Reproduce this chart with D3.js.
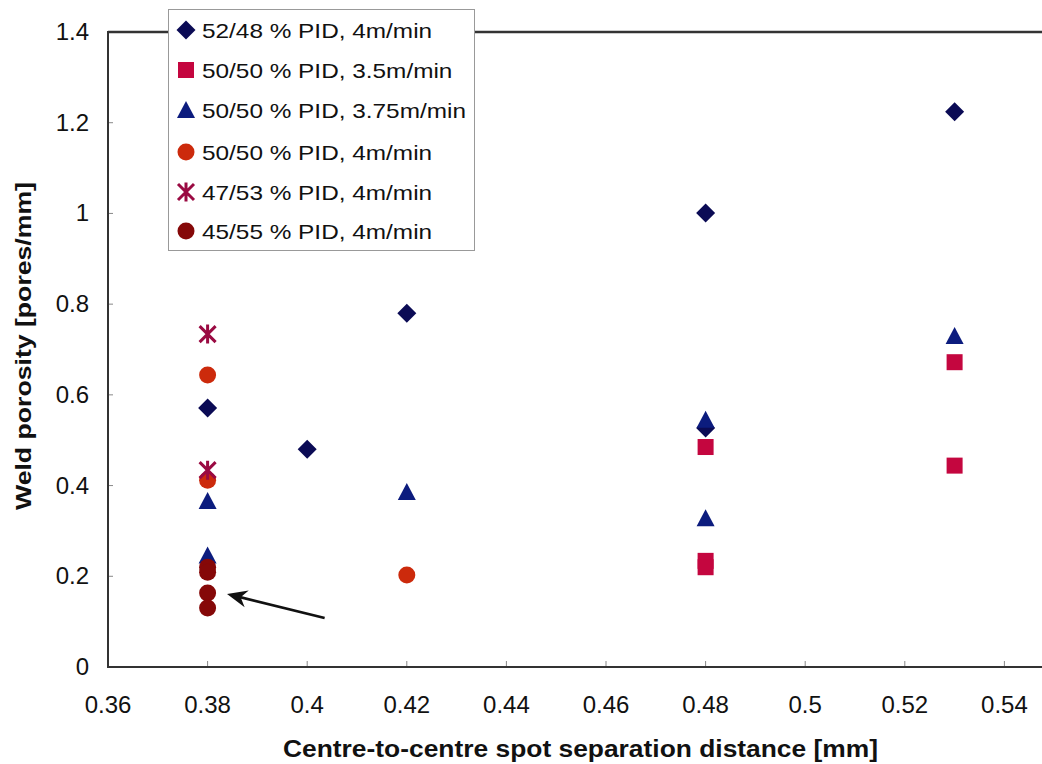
<!DOCTYPE html>
<html><head><meta charset="utf-8">
<script src="https://cdn.jsdelivr.net/npm/d3@7"></script>
<style>html,body{margin:0;padding:0;background:#fff;overflow:hidden}</style>
</head><body>
<svg id="chart" width="1042" height="764"></svg>
<script>
// ---- data ----
const seriesNames = ["52/48 % PID, 4m/min","50/50 % PID, 3.5m/min","50/50 % PID, 3.75m/min","50/50 % PID, 4m/min","47/53 % PID, 4m/min","45/55 % PID, 4m/min"];
const s1x = [0.38,0.40,0.42,0.48,0.48,0.53];
const s1y = [0.571,0.480,0.780,1.001,0.527,1.224];
const s2x = [0.48,0.48,0.48,0.53,0.53];
const s2y = [0.485,0.234,0.220,0.672,0.444];
const s3x = [0.38,0.38,0.42,0.48,0.48,0.53];
const s3y = [0.366,0.246,0.386,0.545,0.328,0.730];
const s4x = [0.38,0.38,0.42];
const s4y = [0.644,0.412,0.203];
const s5x = [0.38,0.38];
const s5y = [0.734,0.434];
const s6x = [0.38,0.38,0.38,0.38];
const s6y = [0.220,0.209,0.163,0.130];
const xTicks = [0.36,0.38,0.40,0.42,0.44,0.46,0.48,0.50,0.52,0.54];
const yTicks = [0,0.2,0.4,0.6,0.8,1,1.2,1.4];
const arrowFrom = {x:0.4035, y:0.108};
const arrowTo = {x:0.3839, y:0.161};

const colors = ["#0b0b55","#c4063f","#0c1c7e","#cc2a0c","#9a0a42","#850808"];
const shapes = ["diamond","square","triangle","circle","asterisk","circle"];

const svg = d3.select("#chart");
const x = d3.scaleLinear().domain([0.36,0.55]).range([108,108+9.5*99.6]);
const y = d3.scaleLinear().domain([0,1.4]).range([667,32]);

function drawMarker(g, shape, color){
  if(shape==="diamond"){
    g.append("path").attr("d","M0,-9.5L9.5,0L0,9.5L-9.5,0Z").attr("fill",color);
  } else if(shape==="square"){
    g.append("rect").attr("x",-8).attr("y",-8).attr("width",16).attr("height",16).attr("fill",color);
  } else if(shape==="triangle"){
    g.append("path").attr("d","M0,-9L9,8L-9,8Z").attr("fill",color);
  } else if(shape==="circle"){
    g.append("circle").attr("r",8.5).attr("fill",color);
  } else if(shape==="asterisk"){
    g.append("path").attr("d","M0,-9.5V9.5M-8,-8L8,8M-8,8L8,-8").attr("stroke",color).attr("stroke-width",3).attr("fill","none");
  }
}

// ticks (inward)
svg.append("g").selectAll("line").data(xTicks).join("line")
  .attr("x1",d=>x(d)).attr("x2",d=>x(d)).attr("y1",y(0)).attr("y2",y(0)-6)
  .attr("stroke","#888").attr("stroke-width",1);
svg.append("g").selectAll("line").data(yTicks).join("line")
  .attr("x1",x(0.36)).attr("x2",x(0.36)+5).attr("y1",d=>y(d)).attr("y2",d=>y(d))
  .attr("stroke","#888").attr("stroke-width",1);

// frame
svg.append("line").attr("x1",x(0.36)).attr("x2",1042).attr("y1",y(1.4)).attr("y2",y(1.4)).attr("stroke","#333").attr("stroke-width",2.5);
svg.append("line").attr("x1",x(0.36)).attr("x2",x(0.36)).attr("y1",y(1.4)-1).attr("y2",y(0)+1).attr("stroke","#333").attr("stroke-width",2);
svg.append("line").attr("x1",x(0.36)-1).attr("x2",1042).attr("y1",y(0)).attr("y2",y(0)).attr("stroke","#333").attr("stroke-width",2);

// tick labels
svg.append("g").selectAll("text").data(xTicks).join("text")
  .attr("x",d=>x(d)).attr("y",713).attr("text-anchor","middle")
  .attr("font-family","Liberation Sans, Arial, sans-serif").attr("font-size",24).attr("fill","#111")
  .text(d=>d3.format("")(+d.toFixed(2)));
svg.append("g").selectAll("text").data(yTicks).join("text")
  .attr("x",89).attr("y",d=>y(d)+8).attr("text-anchor","end")
  .attr("font-family","Liberation Sans, Arial, sans-serif").attr("font-size",24).attr("fill","#111")
  .text(d=>d3.format("")(+d.toFixed(1)));

// axis titles
svg.append("text").attr("x",283).attr("y",757)
  .attr("font-family","Liberation Sans, Arial, sans-serif").attr("font-weight","bold").attr("font-size",23)
  .attr("textLength",595).attr("lengthAdjust","spacingAndGlyphs").attr("fill","#111")
  .text("Centre-to-centre spot separation distance [mm]");
svg.append("text").attr("transform","translate(31,510) rotate(-90)")
  .attr("font-family","Liberation Sans, Arial, sans-serif").attr("font-weight","bold").attr("font-size",22)
  .attr("textLength",328).attr("lengthAdjust","spacingAndGlyphs").attr("fill","#111")
  .text("Weld porosity [pores/mm]");

// data points
const allX = [s1x,s2x,s3x,s4x,s5x,s6x];
const allY = [s1y,s2y,s3y,s4y,s5y,s6y];
allX.forEach((xs,i)=>{
  const pts = xs.map((v,j)=>({x:v,y:allY[i][j]}));
  const g = svg.append("g");
  pts.forEach(p=>{
    const m = g.append("g").attr("transform",`translate(${x(p.x)},${y(p.y)})`);
    drawMarker(m, shapes[i], colors[i]);
  });
});

// arrow
const ax1 = x(arrowFrom.x), ay1 = y(arrowFrom.y), ax2 = x(arrowTo.x), ay2 = y(arrowTo.y);
svg.append("line").attr("x1",ax1).attr("y1",ay1).attr("x2",ax2+6).attr("y2",ay2+1.5)
  .attr("stroke","#111").attr("stroke-width",2.8);
{
  const ang = Math.atan2(ay1-ay2, ax1-ax2);
  const L = 22, w = 0.4;
  const p1 = [ax2+L*Math.cos(ang-w), ay2+L*Math.sin(ang-w)];
  const p2 = [ax2+L*Math.cos(ang+w), ay2+L*Math.sin(ang+w)];
  const pm = [ax2+14*Math.cos(ang), ay2+14*Math.sin(ang)];
  svg.append("path").attr("d",`M${ax2},${ay2}L${p1[0]},${p1[1]}L${pm[0]},${pm[1]}L${p2[0]},${p2[1]}Z`).attr("fill","#111");
}

// legend
const lg = svg.append("g");
lg.append("rect").attr("x",168.5).attr("y",9.5).attr("width",306).attr("height",241)
  .attr("fill","#fff").attr("stroke","#999").attr("stroke-width",1);
const rowY = [30,70,110,152,192,231];
seriesNames.forEach((name,i)=>{
  const m = lg.append("g").attr("transform",`translate(186,${rowY[i]})`);
  drawMarker(m, shapes[i], colors[i]);
  lg.append("text").attr("transform",`translate(202,${rowY[i]+7.5}) scale(1.16,1)`)
    .attr("font-family","Liberation Sans, Arial, sans-serif").attr("font-size",21).attr("fill","#111")
    .text(name);
});
</script>
</body></html>
